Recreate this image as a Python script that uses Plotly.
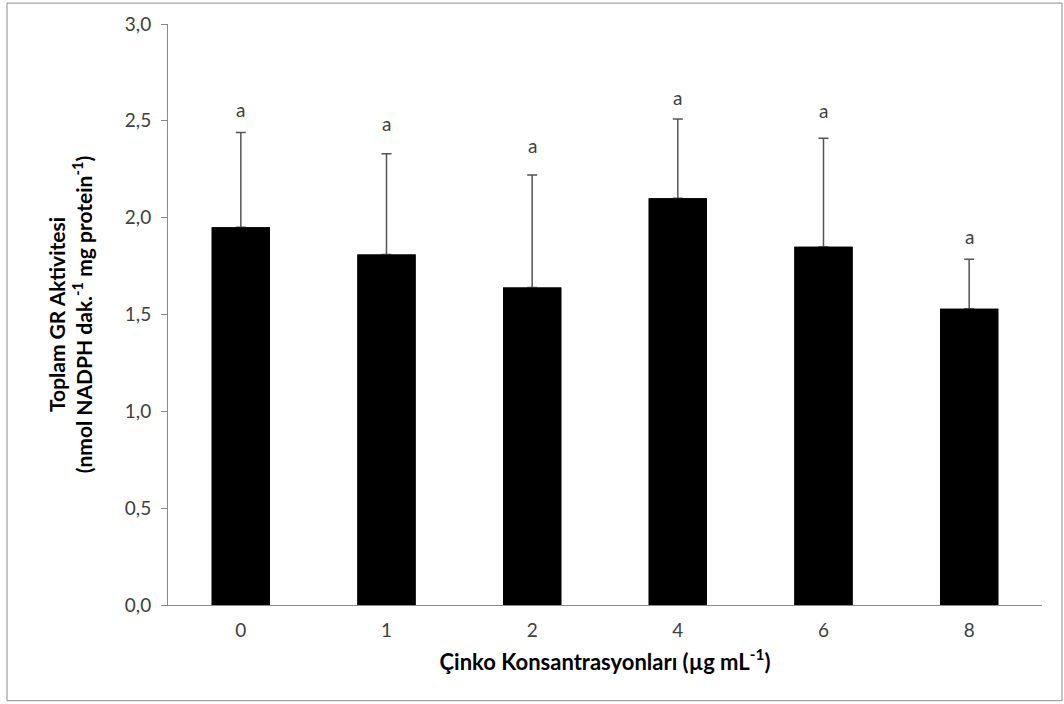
import plotly.graph_objects as go

categories = ["0", "1", "2", "4", "6", "8"]
means = [1.95, 1.81, 1.64, 2.10, 1.85, 1.53]
errors = [0.49, 0.52, 0.58, 0.41, 0.56, 0.255]
letters = ["a", "a", "a", "a", "a", "a"]
letter_y = [2.56, 2.485, 2.375, 2.62, 2.555, 1.905]
y_ticks = [0.0, 0.5, 1.0, 1.5, 2.0, 2.5, 3.0]

fig = go.Figure()
fig.add_trace(go.Bar(
    x=categories, y=means,
    marker=dict(color="black", line=dict(width=0)),
    error_y=dict(type="data", array=errors, arrayminus=[0] * len(errors),
                 symmetric=False, color="#555555", thickness=1.5, width=5),
))
# same bars drawn again on top so the zero-length lower caps are hidden
fig.add_trace(go.Bar(
    x=categories, y=means,
    marker=dict(color="black", line=dict(width=0)),
    hoverinfo="skip",
))

for i, (t, ly) in enumerate(zip(letters, letter_y)):
    fig.add_annotation(x=i, y=ly, text=t, showarrow=False,
                       font=dict(family="Lato", size=19, color="#404040"))

fig.add_shape(type="rect", xref="paper", yref="paper",
              x0=-0.1842, x1=1.0229, y0=-0.1647, y1=1.036,
              line=dict(color="#8c8c8c", width=1), fillcolor="rgba(0,0,0,0)")

fig.update_layout(
    width=1064, height=704,
    margin=dict(l=168, r=22, t=22, b=99),
    plot_bgcolor="white", paper_bgcolor="white",
    separators=",.",
    barmode="overlay",
    bargap=0.6,
    showlegend=False,
    font=dict(family="Lato", color="#404040"),
    xaxis=dict(
        type="category",
        showline=True, linecolor="#898989", linewidth=1,
        ticks="", showgrid=False, ticklabelstandoff=8,
        tickfont=dict(family="Lato", size=19, color="#404040"),
        title=dict(text="<b>Çinko Konsantrasyonları (µg mL<sup>-1</sup>)</b>",
                   font=dict(family="Lato", size=22, color="black"), standoff=14),
    ),
    yaxis=dict(
        range=[0, 3.0], tickvals=y_ticks, tickformat=".1f",
        showline=True, linecolor="#898989", linewidth=1,
        ticks="outside", ticklen=6, tickcolor="#898989",
        showgrid=False, zeroline=False, ticklabelstandoff=6,
        tickfont=dict(family="Lato", size=19, color="#404040"),
        title=dict(text="<b>Toplam GR Aktivitesi<br>(nmol NADPH dak.<sup>-1</sup> mg protein<sup>-1</sup>)</b>",
                   font=dict(family="Lato", size=21, color="black"), standoff=26),
    ),
)

fig.write_html("out.html")
